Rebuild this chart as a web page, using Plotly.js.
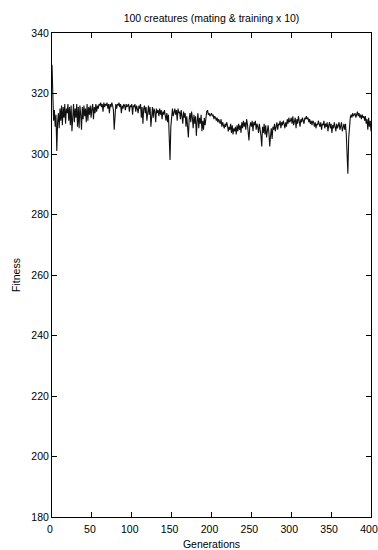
<!DOCTYPE html>
<html>
<head>
<meta charset="utf-8">
<script src="https://cdn.plot.ly/plotly-3.0.1.min.js"></script>
<style>
html,body{margin:0;padding:0;background:#fff;}
#chart{width:378px;height:550px;}
</style>
</head>
<body>
<div id="chart"></div>
<script>
var chartTitle = "100 creatures (mating & training x 10)";
var xTitle = "Generations";
var yTitle = "Fitness";
var xTicks = [0, 50, 100, 150, 200, 250, 300, 350, 400];
var yTicks = [180, 200, 220, 240, 260, 280, 300, 320, 340];

var fitness = [
  329.5, 316, 311, 314.5, 309, 313, 301, 310.5, 313.5, 308.5, 315, 311, 316, 309.5, 315.5, 312, 316.5, 310, 315, 313.5,
  316.5, 311, 315.5, 309.5, 316, 307.5, 314, 316.5, 310.5, 315, 312, 316.5, 309, 315.5, 308.5, 316, 313, 308, 315.5, 311.5,
  316, 312.5, 315, 310.5, 316.5, 311, 315.5, 313, 316, 312, 315, 316.5, 311.5, 315.5, 313.5, 316.5, 314, 316, 315, 316.5,
  316, 317, 315.5, 316.5, 314, 317, 315.5, 316.5, 316, 317, 315, 316.5, 313.5, 316.5, 315.5, 317, 316, 314.5, 308, 315,
  316.5, 315, 316.5, 316, 317, 315.5, 316.5, 313.5, 316, 315, 316.5, 316, 314.5, 316.5, 315.5, 316, 316.5, 314, 316, 315.5,
  316.5, 313, 316, 315.5, 316.5, 314, 316, 315, 313.5, 316, 315, 316.5, 312, 315.5, 310, 315, 316, 313.5, 315.5, 311,
  315, 316, 313, 315.5, 309, 314.5, 315.5, 312, 315, 314, 310.5, 315, 313.5, 314.5, 312.5, 315, 313, 314.5, 311.5, 314,
  313, 314.5, 312, 311, 313.5, 310.5, 313, 305, 298, 309, 313.5, 315, 312.5, 314.5, 315, 313, 314.5, 311, 315, 313.5,
  314, 311.5, 314.5, 312.5, 310, 314, 312, 313.5, 309, 312.5, 307, 305.5, 311.5, 313.5, 310.5, 314, 312, 308.5, 313, 310,
  312.5, 306, 311, 313.5, 308.5, 312, 310, 313, 307.5, 311, 308, 312, 309.5, 313, 314, 314.5, 313, 313.5, 312.5, 313,
  313.5, 312.5, 313, 311.5, 312.5, 312, 311, 312, 310.5, 311.5, 311, 310, 311.5, 309, 310.5, 309.5, 308.5, 310, 309, 310.5,
  309.5, 307.5, 309, 308, 310, 307, 309.5, 306.5, 308.5, 307.5, 309, 306.5, 309.5, 307.5, 310, 308, 309.5, 307, 310.5, 308.5,
  311, 309, 310.5, 308, 311.5, 310, 305.5, 304.5, 309, 310.5, 309, 311, 307.5, 310.5, 309.5, 311, 308, 310, 309, 307,
  310, 308.5, 306, 302.5, 309, 307, 310, 306.5, 309.5, 305.5, 308, 309.5, 307, 302.5, 306, 308.5, 305, 309, 308, 310,
  307.5, 309, 310.5, 308, 310, 309.5, 311, 308.5, 310.5, 309.5, 311, 310, 308.5, 310.5, 309, 311.5, 310, 312, 310.5, 311,
  312, 310, 312.5, 309.5, 311, 312, 308.5, 311.5, 310, 312.5, 311, 309, 311.5, 310.5, 312, 311, 310, 312, 311.5, 312.5,
  311.5, 312, 310.5, 311.5, 310, 311, 309.5, 311, 310.5, 309, 310.5, 308.5, 310, 309.5, 311, 310, 309, 310.5, 308, 310,
  309.5, 311, 308.5, 310, 309, 310.5, 307.5, 309.5, 310.5, 308.5, 310, 307, 309.5, 308.5, 310.5, 309, 307.5, 310, 308.5, 309.5,
  310.5, 308, 309.5, 310.5, 307.5, 309, 310, 308, 310, 306.5, 300, 293.5, 305, 311, 312, 313, 312, 313.5, 312.5, 313,
  313.5, 312, 313, 314, 312.5, 313.5, 312, 313, 311.5, 313, 312, 312.5, 311, 312.5, 310, 311.5, 308, 312, 309, 311, 307.5
];
var generations = fitness.map(function(v, i){ return i; });

var font = "Liberation Sans, Arial, Helvetica, sans-serif";

var trace = {
  x: generations,
  y: fitness,
  type: "scatter",
  mode: "lines",
  line: {color: "#111111", width: 1.1},
  hoverinfo: "skip",
  showlegend: false
};

var axisCommon = {
  showgrid: false,
  zeroline: false,
  showline: true,
  linecolor: "#000000",
  linewidth: 1,
  mirror: "ticks",
  ticks: "inside",
  ticklen: 5,
  tickwidth: 1,
  tickcolor: "#000000",
  ticklabeloverflow: "allow",
  tickfont: {family: font, size: 10.5, color: "#000000"}
};

var layout = {
  width: 378,
  height: 550,
  margin: {l: 52, r: 7, t: 33, b: 33, pad: 0},
  paper_bgcolor: "#ffffff",
  plot_bgcolor: "#ffffff",
  font: {family: font, size: 10.5, color: "#000000"},
  title: {
    text: chartTitle,
    font: {family: font, size: 10.5, color: "#000000"},
    xref: "paper", x: 0.5, xanchor: "center",
    yref: "container", y: 1 - 18/550, yanchor: "middle"
  },
  xaxis: Object.assign({}, axisCommon, {
    range: [0, 400],
    tickvals: xTicks,
    ticktext: xTicks.map(String),
    ticklabelstandoff: 2,
    ticklabelshift: -2,
    title: {text: xTitle, font: {family: font, size: 10.5, color: "#000000"}, standoff: 8}
  }),
  yaxis: Object.assign({}, axisCommon, {
    range: [180, 340],
    tickvals: yTicks,
    ticktext: yTicks.map(String),
    title: {text: yTitle, font: {family: font, size: 10.5, color: "#000000"}, standoff: 8}
  })
};

Plotly.newPlot("chart", [trace], layout, {displayModeBar: false, staticPlot: true});
</script>
</body>
</html>
